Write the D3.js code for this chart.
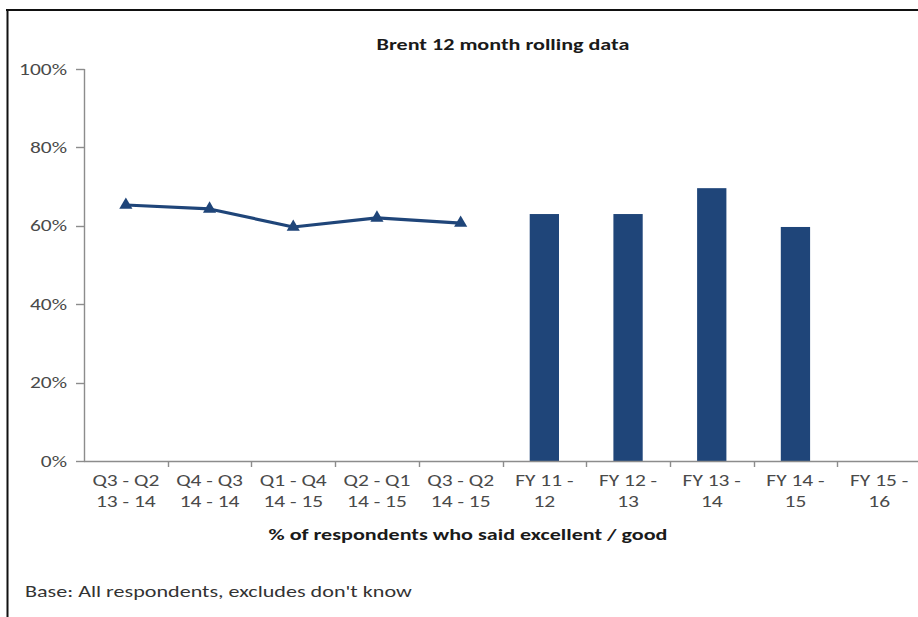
<!DOCTYPE html>
<html><head><meta charset="utf-8">
<script src="https://cdn.jsdelivr.net/npm/d3@7"></script>
<style>
body{margin:0;background:#fff;}
svg{display:block;font-family:Carlito,Lato,"Open Sans",sans-serif;}
</style></head><body>
<svg id="c" width="918" height="617"></svg>
<script>
const categories = [["Q3 - Q2","13 - 14"],["Q4 - Q3","14 - 14"],["Q1 - Q4","14 - 15"],["Q2 - Q1","14 - 15"],["Q3 - Q2","14 - 15"],["FY 11 -","12"],["FY 12 -","13"],["FY 13 -","14"],["FY 14 -","15"],["FY 15 -","16"]];
const lineValues = [65.3, 64.3, 59.7, 62.0, 60.7, null, null, null, null, null];
const barValues = [null, null, null, null, null, 63.0, 63.0, 69.6, 59.7, null];
const yTicks = [0, 20, 40, 60, 80, 100];
const title = "Brent 12 month rolling data";
const xTitle = "% of respondents who said excellent / good";
const note = "Base: All respondents, excludes don't know";

const svg = d3.select("#c");
const navy = "#1f4579";
const axisCol = "#8c8c8c";
const textCol = "#4a4a4a";
const SX = 1.34; // horizontal stretch of the reference's text

function stretchedText(parent, x, y, str, opts) {
  const g = parent.append("g").attr("transform", `translate(${x},${y}) scale(${SX},1)`);
  const t = g.append("text").attr("x",0).attr("y",0)
    .attr("text-anchor", opts.anchor || "start")
    .attr("font-size", opts.size || 16)
    .attr("font-weight", opts.weight || "normal")
    .attr("fill", opts.fill || textCol)
    .text(str);
  return t;
}

// frame
svg.append("line").attr("x1",6).attr("x2",918).attr("y1",10).attr("y2",10).attr("stroke","#111").attr("stroke-width",2);
svg.append("line").attr("x1",7.5).attr("x2",7.5).attr("y1",9).attr("y2",617).attr("stroke","#111").attr("stroke-width",2);

const x = d3.scaleBand().domain(d3.range(categories.length)).range([84, 921]).padding(0);
const y = d3.scaleLinear().domain([0,100]).range([461, 69]);

stretchedText(svg, 503, 50, title, {anchor:"middle", size:16.5, weight:"bold", fill:"#1a1a1a"});

// y axis
const ya = svg.append("g");
ya.append("line").attr("x1",84.5).attr("x2",84.5).attr("y1",y(100)).attr("y2",y(0)).attr("stroke",axisCol).attr("stroke-width",1.4);
yTicks.forEach(t=>{
  const yy = Math.round(y(t))+0.5;
  ya.append("line").attr("x1",76).attr("x2",84.5).attr("y1",yy).attr("y2",yy).attr("stroke",axisCol).attr("stroke-width",1.4);
  stretchedText(ya, 67, y(t)+5.5, t+"%", {anchor:"end", size:16});
});

// bars
svg.append("g").selectAll("rect").data(barValues.map((v,i)=>({v,i})).filter(d=>d.v!=null)).join("rect")
  .attr("x",d=>x(d.i)+x.bandwidth()*0.325).attr("width",x.bandwidth()*0.35)
  .attr("y",d=>y(d.v)).attr("height",d=>y(0)-y(d.v)).attr("fill",navy);

// x axis
const xa = svg.append("g");
xa.append("line").attr("x1",84).attr("x2",921).attr("y1",461.5).attr("y2",461.5).attr("stroke",axisCol).attr("stroke-width",1.4);
d3.range(1, categories.length).forEach(i=>{
  const xx = Math.round(x(i))+0.5;
  xa.append("line").attr("x1",xx).attr("x2",xx).attr("y1",461).attr("y2",467).attr("stroke",axisCol).attr("stroke-width",1.4);
});
categories.forEach((c,i)=>{
  const cx = x(i)+x.bandwidth()/2;
  stretchedText(xa, cx, 486, c[0], {anchor:"middle", size:16});
  stretchedText(xa, cx, 507, c[1], {anchor:"middle", size:16});
});

// line
const pts = lineValues.map((v,i)=>({v,i})).filter(d=>d.v!=null);
svg.append("path").datum(pts)
  .attr("d",d3.line().x(d=>x(d.i)+x.bandwidth()/2).y(d=>y(d.v)))
  .attr("fill","none").attr("stroke",navy).attr("stroke-width",3.2).attr("stroke-linejoin","round");
svg.append("g").selectAll("path").data(pts).join("path")
  .attr("transform",d=>`translate(${x(d.i)+x.bandwidth()/2},${y(d.v)})`)
  .attr("d",d3.symbol().type(d3.symbolTriangle).size(75)).attr("fill",navy);

stretchedText(svg, 468, 540, xTitle, {anchor:"middle", size:16.5, weight:"bold", fill:"#1a1a1a"});
stretchedText(svg, 25, 597, note, {anchor:"start", size:16.5, fill:"#333"});
</script>
</body></html>
